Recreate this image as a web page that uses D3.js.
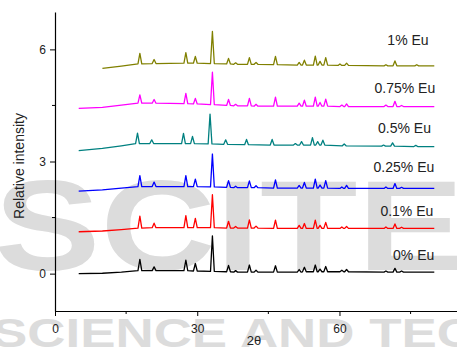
<!DOCTYPE html>
<html>
<head>
<meta charset="utf-8">
<script src="https://cdn.jsdelivr.net/npm/d3@7"></script>
<style>
  html, body { margin: 0; padding: 0; background: #fff; }
  svg { display: block; font-family: "Liberation Sans", Arial, sans-serif; }
</style>
</head>
<body>
<svg id="chart" width="457" height="351"></svg>
<script>
// series names, in the stacking order (bottom to top)
const seriesNames = ["0% Eu", "0.1% Eu", "0.25% Eu", "0.5% Eu", "0.75% Eu", "1% Eu"];
const seriesColors = ["#000000", "#ff0000", "#0000ff", "#008080", "#ff00ff", "#808000"];

// each point: [2theta, baseline level, peak height above the baseline]
const eu0 = [[5,0,0],[10,0.01,0],[14,0.04,0],[17.9,0.08,0.30],[20.9,0.08,0.10],[27.6,0.08,0.28],[29.6,0.07,0.20],
  [33.2,0.06,0.95],[36.6,0.05,0.17],[38.1,0.04,0.04],[41.0,0.04,0.19],[42.4,0.04,0.05],[46.5,0.04,0.17],
  [51.5,0.04,0.07],[52.6,0.05,0.12],[54.9,0.05,0.18],[55.9,0.05,0.07],[57.1,0.05,0.14],[60.5,0.05,0.04],
  [61.5,0.05,0.06],[69.8,0.04,0.03],[71.7,0.04,0.10],[73.1,0.04,0.03],[80,0.04,0]];
const eu01 = [[5,1.12,0],[10,1.14,0],[14,1.18,0],[17.9,1.22,0.32],[20.9,1.23,0.12],[27.6,1.23,0.32],[29.6,1.23,0.25],
  [33.2,1.23,0.88],[36.6,1.22,0.18],[38.1,1.22,0.04],[41.0,1.22,0.22],[42.4,1.22,0.05],[46.5,1.21,0.22],
  [51.5,1.21,0.08],[52.6,1.21,0.13],[54.9,1.21,0.22],[55.9,1.21,0.08],[57.1,1.21,0.16],[60.5,1.21,0.04],
  [61.5,1.21,0.05],[69.8,1.21,0.04],[71.7,1.21,0.12],[73.1,1.21,0.03],[80,1.21,0]];
const eu025 = [[5,2.21,0],[10,2.24,0],[14,2.29,0],[17.9,2.33,0.29],[20.9,2.33,0.12],[27.6,2.33,0.29],[29.6,2.33,0.20],
  [33.2,2.32,0.88],[36.6,2.31,0.18],[38.1,2.30,0.04],[41.0,2.30,0.18],[42.4,2.30,0.05],[46.5,2.29,0.22],
  [51.5,2.29,0.07],[52.6,2.29,0.15],[54.9,2.29,0.24],[55.9,2.29,0.08],[57.1,2.29,0.20],[60.5,2.28,0.04],
  [61.5,2.28,0.08],[69.8,2.28,0.04],[71.7,2.28,0.13],[73.1,2.28,0.03],[80,2.28,0]];
const eu05 = [[5,3.29,0],[10,3.35,0],[14,3.42,0],[17.4,3.48,0.28],[20.4,3.48,0.10],[27.1,3.48,0.27],[29.0,3.48,0.19],
  [32.7,3.47,0.80],[36.0,3.46,0.12],[40.4,3.45,0.14],[45.8,3.44,0.15],[50.7,3.44,0.04],[52.0,3.44,0.09],
  [54.3,3.44,0.20],[55.4,3.44,0.09],[56.5,3.44,0.13],[61.0,3.42,0.05],[69.3,3.41,0.03],[71.2,3.41,0.09],
  [76.1,3.40,0.03],[80,3.40,0]];
const eu075 = [[5,4.42,0],[10,4.45,0],[14,4.51,0],[17.9,4.56,0.22],[20.9,4.56,0.10],[27.6,4.55,0.27],[29.6,4.54,0.15],
  [33.2,4.52,0.87],[36.6,4.50,0.16],[38.1,4.49,0.04],[41.0,4.49,0.20],[42.4,4.48,0.05],[46.5,4.48,0.24],
  [51.5,4.48,0.08],[52.6,4.48,0.16],[54.9,4.48,0.24],[55.9,4.48,0.10],[57.1,4.48,0.19],[60.5,4.47,0.04],
  [61.5,4.47,0.07],[69.8,4.47,0.04],[71.7,4.47,0.14],[73.1,4.47,0.03],[80,4.47,0]];
const eu1 = [[10,5.49,0],[14,5.55,0],[17.9,5.61,0.28],[20.9,5.62,0.11],[27.6,5.63,0.28],[29.6,5.63,0.18],
  [33.2,5.62,0.86],[36.6,5.61,0.15],[38.1,5.60,0.04],[41.0,5.60,0.18],[42.4,5.60,0.05],[46.5,5.59,0.22],
  [51.5,5.58,0.07],[52.6,5.58,0.13],[54.9,5.58,0.24],[55.9,5.58,0.10],[57.1,5.58,0.20],[60.1,5.57,0.04],
  [61.5,5.57,0.06],[69.8,5.56,0.03],[71.7,5.56,0.13],[76.3,5.56,0.03],[80,5.56,0]];
const seriesData = [eu0, eu01, eu025, eu05, eu075, eu1];

// where each legend label sits (right end in 2theta, baseline in intensity units)
const labelX = [80, 79.8, 80, 79.3, 80.2, 78.8];
const labelY = [0.36, 1.54, 2.73, 3.75, 4.82, 6.12];

const xMajorTicks = [0, 30, 60];
const xMinorTicks = [15, 45, 75];
const yMajorTicks = [0, 3, 6];
const yMinorTicks = [1.5, 4.5];

const svg = d3.select("#chart");

// faint publisher watermark behind the plot
const wm = svg.append("g").attr("fill", "#dcdcdc").attr("font-weight", "bold");
wm.append("text").attr("x", -6).attr("y", 270).attr("font-size", 128)
  .attr("textLength", 470).attr("lengthAdjust", "spacingAndGlyphs").text("SCITE");
wm.append("text").attr("x", -8).attr("y", 347).attr("font-size", 40)
  .attr("textLength", 483).attr("lengthAdjust", "spacingAndGlyphs").text("SCIENCE AND TEC");

const x = d3.scaleLinear().domain([0, 85]).range([55, 458]);
const y = d3.scaleLinear().domain([-1, 7]).range([311, 12]);

// X axis
const xAxis = svg.append("g").attr("transform", "translate(0,311)")
  .call(d3.axisBottom(x).tickValues(xMajorTicks).tickSize(5).tickPadding(8).tickSizeOuter(0));
xAxis.append("g").selectAll("line").data(xMinorTicks).enter().append("line")
  .attr("x1", d => x(d)).attr("x2", d => x(d)).attr("y1", 0).attr("y2", 3).attr("stroke", "#000");

// Y axis
const yAxis = svg.append("g").attr("transform", "translate(55,0)")
  .call(d3.axisLeft(y).tickValues(yMajorTicks).tickSize(5).tickPadding(4).tickSizeOuter(0));
yAxis.append("g").selectAll("line").data(yMinorTicks).enter().append("line")
  .attr("y1", d => y(d)).attr("y2", d => y(d)).attr("x1", 0).attr("x2", -3).attr("stroke", "#000");

svg.selectAll(".domain").attr("stroke", "#000").attr("stroke-width", 1.2);
svg.selectAll(".tick text").attr("font-size", 12).attr("font-family", "Liberation Sans, Arial, sans-serif").attr("fill", "#222");

// axis titles
svg.append("text").attr("x", 254).attr("y", 345).attr("text-anchor", "middle")
  .attr("font-size", 13).attr("fill", "#222").text("2θ");
svg.append("text").attr("transform", "translate(24,166) rotate(-90)").attr("text-anchor", "middle")
  .attr("font-size", 14).attr("fill", "#222").text("Relative intensity");

// each peak drawn as a sharp triangle on its baseline
function tracePoints(rows) {
  const pts = [];
  rows.forEach(([t, base, h]) => {
    if (h > 0) {
      pts.push([t - 0.4, base], [t, base + h], [t + 0.4, base]);
    } else {
      pts.push([t, base]);
    }
  });
  return pts;
}

const line = d3.line().x(d => x(d[0])).y(d => y(d[1]));

svg.append("g").selectAll("path").data(seriesData).enter().append("path")
  .attr("d", d => line(tracePoints(d)))
  .attr("fill", "none")
  .attr("stroke", (d, i) => seriesColors[i])
  .attr("stroke-width", 1.3)
  .attr("stroke-linejoin", "round");

svg.append("g").selectAll("text").data(seriesNames).enter().append("text")
  .attr("x", (d, i) => x(labelX[i]))
  .attr("y", (d, i) => y(labelY[i]))
  .attr("text-anchor", "end")
  .attr("font-size", 14)
  .attr("fill", "#222")
  .text(d => d);
</script>
</body>
</html>
